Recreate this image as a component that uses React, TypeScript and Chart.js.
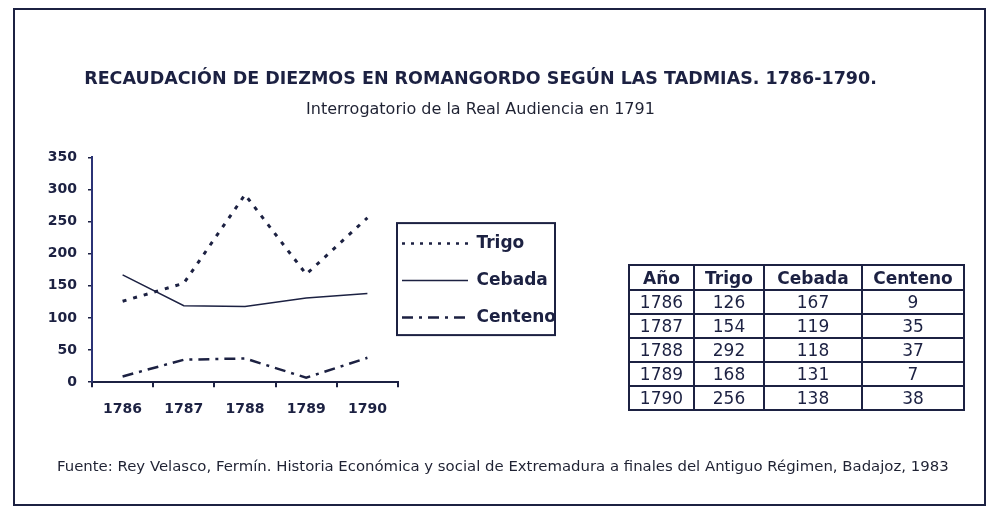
import React, { useEffect, useRef } from "react";
import { Chart, registerables } from "chart.js";

Chart.register(...registerables);

const years = ["1786", "1787", "1788", "1789", "1790"];
const trigo = [126, 154, 292, 168, 256];
const cebada = [167, 119, 118, 131, 138];
const centeno = [9, 35, 37, 7, 38];
const seriesNames = ["Trigo", "Cebada", "Centeno"];
const tableHeader = ["Año", "Trigo", "Cebada", "Centeno"];
const titleText = "RECAUDACIÓN DE DIEZMOS EN ROMANGORDO SEGÚN LAS TADMIAS. 1786-1790.";
const subtitleText = "Interrogatorio de la Real Audiencia en 1791";
const sourceText =
  "Fuente: Rey Velasco, Fermín. Historia Económica y social de Extremadura a finales del Antiguo Régimen, Badajoz, 1983";

const INK = "#1c2142";
const FONT = "'DejaVu Sans', Verdana, sans-serif";

const legendBoxPlugin = {
  id: "legendBox",
  afterDraw(chart: any) {
    const lg = chart.legend;
    if (!lg || !lg.legendHitBoxes || !lg.legendHitBoxes.length) return;
    const hb = lg.legendHitBoxes;
    const top = hb[0].top - 12;
    const bottom = hb[hb.length - 1].top + 26;
    const left = lg.left - 1;
    const right = lg.left + lg.width - 1;
    const ctx = chart.ctx;
    ctx.save();
    ctx.strokeStyle = INK;
    ctx.lineWidth = 2;
    ctx.setLineDash([]);
    ctx.strokeRect(left, top, right - left, bottom - top);
    ctx.restore();
  },
};

export default function App() {
  const ref = useRef<HTMLCanvasElement>(null);

  useEffect(() => {
    const canvas = ref.current;
    if (!canvas) return;
    const chart = new Chart(canvas, {
      type: "line",
      data: {
        labels: years,
        datasets: [
          {
            label: seriesNames[0],
            data: trigo,
            borderColor: INK,
            backgroundColor: INK,
            borderWidth: 3,
            borderDash: [4, 7],
            pointRadius: 0,
            tension: 0,
          },
          {
            label: seriesNames[1],
            data: cebada,
            borderColor: INK,
            backgroundColor: INK,
            borderWidth: 1.5,
            borderDash: [],
            pointRadius: 0,
            tension: 0,
          },
          {
            label: seriesNames[2],
            data: centeno,
            borderColor: INK,
            backgroundColor: INK,
            borderWidth: 2.5,
            borderDash: [11, 6, 3, 6],
            pointRadius: 0,
            tension: 0,
          },
        ],
      },
      options: {
        responsive: false,
        animation: false,
        devicePixelRatio: 1,
        layout: { padding: { left: 0, right: 40, top: 0, bottom: 80 } },
        font: { family: FONT },
        plugins: {
          title: {
            display: true,
            text: titleText,
            color: INK,
            font: { family: FONT, size: 17.5, weight: "bold", lineHeight: 1.2 },
            padding: { top: 69, bottom: 0 },
          },
          subtitle: {
            display: true,
            text: subtitleText,
            color: "#1f2233",
            font: { family: FONT, size: 16, weight: "normal", lineHeight: 1.2 },
            padding: { top: 10.5, bottom: 37.7 },
          },
          legend: {
            display: true,
            position: "right",
            align: "center",
            fullSize: false,
            maxWidth: 158,
            weight: 1000,
            title: {
              display: true,
              text: " ",
              font: { family: FONT, size: 10, lineHeight: 1 },
              padding: { top: 27.6, bottom: 0 },
            },
            labels: {
              usePointStyle: true,
              pointStyle: "line",
              pointStyleWidth: 66,
              padding: 4,
              color: INK,
              font: { family: FONT, size: 17, weight: "bold", lineHeight: 33 / 17 },
              generateLabels: (c: any) =>
                c.data.datasets.map((ds: any, i: number) => ({
                  text: [ds.label],
                  fillStyle: INK,
                  strokeStyle: INK,
                  fontColor: INK,
                  lineWidth: i === 1 ? 1.5 : 2.5,
                  lineDash: i === 0 ? [3, 6] : i === 2 ? [11, 6, 3, 6] : [],
                  pointStyle: "line",
                  hidden: false,
                  datasetIndex: i,
                })),
            },
          },
          tooltip: { enabled: false },
        },
        scales: {
          x: {
            offset: true,
            border: { display: true, color: INK, width: 2 },
            grid: {
              display: true,
              offset: true,
              drawOnChartArea: false,
              drawTicks: true,
              tickLength: 5,
              color: INK,
              lineWidth: 2,
            },
            ticks: {
              color: INK,
              padding: 14,
              font: { family: FONT, size: 14, weight: "bold", lineHeight: 1.2 },
              maxRotation: 0,
            },
          },
          y: {
            min: 0,
            max: 350,
            afterFit: (scale: any) => {
              scale.width = 92;
            },
            border: { display: true, color: "#2b3375", width: 2 },
            grid: {
              display: true,
              drawOnChartArea: false,
              drawTicks: true,
              tickLength: 4,
              color: INK,
              lineWidth: 1.5,
            },
            ticks: {
              stepSize: 50,
              color: INK,
              padding: 11,
              font: { family: FONT, size: 14, weight: "bold", lineHeight: 1.2 },
            },
          },
          tableSpace: {
            type: "linear",
            position: "right",
            weight: 2000,
            display: true,
            afterFit: (scale: any) => {
              scale.width = 405;
            },
            border: { display: false },
            grid: { display: false, drawTicks: false },
            ticks: { display: false },
          },
        },
      },
      plugins: [legendBoxPlugin],
    } as any);
    return () => chart.destroy();
  }, []);

  const cellBorder = `2px solid ${INK}`;
  const colWidths = [65, 70, 98, 102];

  return (
    <div
      style={{
        position: "fixed",
        left: 0,
        top: 0,
        width: 1001,
        height: 512,
        background: "#ffffff",
        overflow: "hidden",
      }}
    >
      <div
        style={{
          position: "absolute",
          left: 13,
          top: 8,
          width: 973,
          height: 498,
          border: `2px solid ${INK}`,
          boxSizing: "border-box",
        }}
      />
      <canvas
        ref={ref}
        width={1001}
        height={512}
        style={{ position: "absolute", left: 0, top: 0, width: 1001, height: 512 }}
      />
      <table
        style={{
          position: "absolute",
          left: 628,
          top: 264,
          width: 336,
          borderCollapse: "collapse",
          fontFamily: FONT,
          color: INK,
          border: `2.5px solid ${INK}`,
          tableLayout: "fixed",
        }}
      >
        <colgroup>
          {colWidths.map((w, i) => (
            <col key={i} style={{ width: w }} />
          ))}
        </colgroup>
        <thead>
          <tr style={{ height: 25 }}>
            {tableHeader.map((h) => (
              <th
                key={h}
                style={{
                  border: cellBorder,
                  padding: 0,
                  fontSize: 17,
                  fontWeight: "bold",
                  textAlign: "center",
                  lineHeight: "20px",
                }}
              >
                {h}
              </th>
            ))}
          </tr>
        </thead>
        <tbody>
          {years.map((y, i) => (
            <tr key={y} style={{ height: 24 }}>
              {[y, String(trigo[i]), String(cebada[i]), String(centeno[i])].map((v, j) => (
                <td
                  key={j}
                  style={{
                    border: cellBorder,
                    padding: 0,
                    fontSize: 17,
                    textAlign: "center",
                    lineHeight: "20px",
                  }}
                >
                  {v}
                </td>
              ))}
            </tr>
          ))}
        </tbody>
      </table>
      <div
        style={{
          position: "absolute",
          left: 57,
          top: 457,
          fontFamily: FONT,
          fontSize: 14.9,
          color: "#1f2233",
          whiteSpace: "nowrap",
        }}
      >
        {sourceText}
      </div>
    </div>
  );
}
